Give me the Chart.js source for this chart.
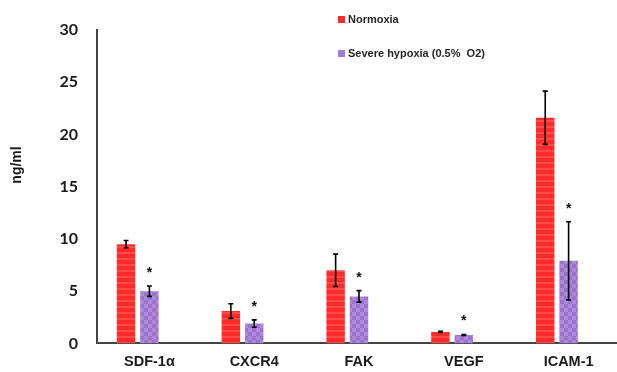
<!DOCTYPE html>
<html>
<head>
<meta charset="utf-8">
<script src="https://cdn.jsdelivr.net/npm/chart.js@4/dist/chart.umd.min.js"></script>
<style>
  html, body { margin: 0; padding: 0; background: #fff; overflow: hidden; }
  #wrap { position: absolute; left: 0; top: 0; width: 621px; height: 372px; }
</style>
</head>
<body>
<div id="wrap"><canvas id="c" width="621" height="372"></canvas></div>
<script>
const categories = ['SDF-1α', 'CXCR4', 'FAK', 'VEGF', 'ICAM-1'];
const normoxia = [9.5, 3.1, 7.0, 1.1, 21.6];
const normoxiaErr = [0.35, 0.7, 1.55, 0.05, 2.55];
const hypoxia = [5.0, 1.9, 4.5, 0.8, 7.9];
const hypoxiaErr = [0.5, 0.35, 0.55, 0.05, 3.75];
const significant = [true, true, true, true, true];
const yTicks = [0, 5, 10, 15, 20, 25, 30];
const seriesNames = ['Normoxia', 'Severe hypoxia (0.5%  O2)'];
const yTitle = 'ng/ml';

function makePattern(kind) {
  const p = document.createElement('canvas');
  const ctx = p.getContext('2d');
  if (kind === 'red') {
    p.width = 6; p.height = 6;
    ctx.fillStyle = '#ff2b2b'; ctx.fillRect(0, 0, 6, 6);
    ctx.fillStyle = '#ff4a4a'; ctx.fillRect(0, 0, 6, 2);
  } else {
    p.width = 8; p.height = 8;
    ctx.fillStyle = '#9c72cf'; ctx.fillRect(0, 0, 8, 8);
    ctx.fillStyle = '#ad8ad9'; ctx.fillRect(0, 0, 4, 4); ctx.fillRect(4, 4, 4, 4);
  }
  return document.getElementById('c').getContext('2d').createPattern(p, 'repeat');
}
const redFill = makePattern('red');
const purpleFill = makePattern('purple');
const errors = [normoxiaErr, hypoxiaErr];

const errorBars = {
  id: 'errorBars',
  afterDatasetsDraw(chart) {
    const ctx = chart.ctx;
    const y = chart.scales.y;
    ctx.save();
    ctx.strokeStyle = '#000';
    ctx.lineWidth = 1.6;
    [0, 1].forEach(di => {
      const meta = chart.getDatasetMeta(di);
      const vals = chart.data.datasets[di].data;
      meta.data.forEach((el, i) => {
        const v = vals[i], e = errors[di][i];
        const yt = y.getPixelForValue(v + e), yb = y.getPixelForValue(v - e);
        ctx.beginPath();
        ctx.moveTo(el.x, yt); ctx.lineTo(el.x, yb);
        ctx.moveTo(el.x - 2.5, yt); ctx.lineTo(el.x + 2.5, yt);
        ctx.moveTo(el.x - 2.5, yb); ctx.lineTo(el.x + 2.5, yb);
        ctx.stroke();
        if (di === 1 && significant[i]) {
          ctx.fillStyle = '#111';
          ctx.font = 'bold 14px "Liberation Sans", Arial, sans-serif';
          ctx.textAlign = 'center';
          ctx.textBaseline = 'middle';
          ctx.fillText('*', el.x, yt - 13);
        }
      });
    });
    ctx.restore();
  }
};

const customLegend = {
  id: 'customLegend',
  afterDraw(chart) {
    const ctx = chart.ctx;
    ctx.save();
    ctx.font = 'bold 11px "Liberation Sans", Arial, sans-serif';
    ctx.textBaseline = 'middle';
    ctx.textAlign = 'left';
    const rows = [19, 53];
    [0, 1].forEach(di => {
      const ds = chart.data.datasets[di];
      ctx.fillStyle = ds.legendColor;
      ctx.fillRect(338, rows[di] - 3, 7, 7);
      ctx.fillStyle = '#262626';
      ctx.fillText(ds.label, 348, rows[di] + 0.5);
    });
    // y-axis title
    ctx.translate(17, 165);
    ctx.rotate(-Math.PI / 2);
    ctx.textAlign = 'center';
    ctx.fillStyle = '#1a1a1a';
    ctx.font = 'bold 14px "Liberation Sans", Arial, sans-serif';
    ctx.fillText(yTitle, 0, 0);
    ctx.restore();
  }
};

new Chart(document.getElementById('c'), {
  type: 'bar',
  data: {
    labels: categories,
    datasets: [
      { label: seriesNames[0], data: normoxia, backgroundColor: redFill, legendColor: '#ff2a2a' },
      { label: seriesNames[1], data: hypoxia, backgroundColor: purpleFill, legendColor: '#a07ad4' },
      { label: '', data: categories.map(() => null), backgroundColor: 'rgba(0,0,0,0)' }
    ]
  },
  options: {
    responsive: false,
    animation: false,
    devicePixelRatio: 1,
    categoryPercentage: 0.669,
    barPercentage: 0.79,
    layout: { padding: { top: 30, right: 0, left: 0, bottom: 0 } },
    plugins: { legend: { display: false }, tooltip: { enabled: false } },
    scales: {
      x: {
        grid: { display: false, drawTicks: false },
        border: { display: true, color: '#444', width: 2 },
        ticks: {
          color: '#1a1a1a',
          padding: 10,
          font: { family: '"Liberation Sans", Arial, sans-serif', size: 14.5, weight: 'bold' }
        },
        afterFit(s) { s.height = 25; }
      },
      y: {
        min: 0, max: 30,
        afterBuildTicks(s) { s.ticks = yTicks.map(v => ({ value: v })); },
        grid: { display: false, drawTicks: false },
        border: { display: true, color: '#444', width: 2 },
        ticks: {
          color: '#1a1a1a',
          padding: 19,
          font: { family: 'Lato, "Open Sans", sans-serif', size: 16, weight: 'bold' }
        },
        afterFit(s) { s.width = 97; }
      }
    }
  },
  plugins: [errorBars, customLegend]
});
</script>
</body>
</html>
